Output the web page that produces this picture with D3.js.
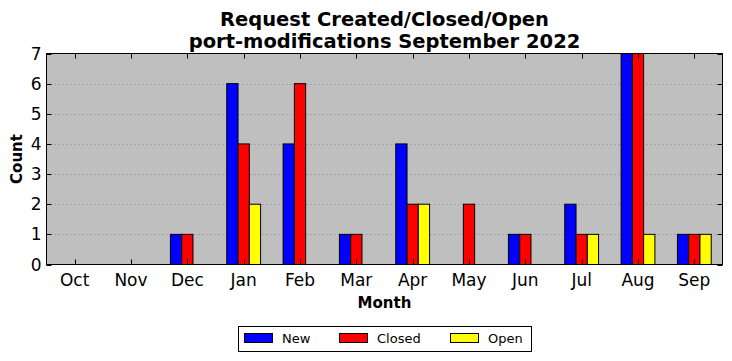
<!DOCTYPE html>
<html><head><meta charset="utf-8">
<script src="https://cdn.jsdelivr.net/npm/d3@7"></script>
<style>body{margin:0;background:#fff}svg text{font-family:"DejaVu Sans",sans-serif}</style>
</head><body><svg id="c" width="732" height="361"></svg>
<script>
const months = ["Oct","Nov","Dec","Jan","Feb","Mar","Apr","May","Jun","Jul","Aug","Sep"];
const seriesNames = ["New","Closed","Open"];
const seriesColors = ["#0000ff","#ff0000","#ffff00"];
const newVals = [0,0,1,6,4,1,4,0,1,2,7,1];
const closedVals = [0,0,1,4,6,1,2,2,1,1,7,1];
const openVals = [0,0,0,2,0,0,2,0,0,1,1,1];
const yTicks = [0,1,2,3,4,5,6,7];
const series = [newVals, closedVals, openVals];

const svg = d3.select("#c");
const L=46.5, R=722.5, T=53.5, B=264.5;
const x = d3.scaleBand().domain(months).range([L,R]).padding(0);
const y = d3.scaleLinear().domain([0,7]).range([B,T]);
const bw = x.bandwidth();

svg.append("rect").attr("x",L).attr("y",T).attr("width",R-L).attr("height",B-T).attr("fill","#bfbfbf");
svg.append("g").selectAll("line").data(yTicks.slice(1,-1)).join("line")
  .attr("x1",L).attr("x2",R).attr("y1",d=>Math.round(y(d))+0.5).attr("y2",d=>Math.round(y(d))+0.5)
  .attr("stroke","#888").attr("stroke-width",1).attr("stroke-dasharray","1,3");

series.forEach((vals,si)=>{
  svg.append("g").selectAll("rect").data(vals).join("rect")
    .attr("x",(d,i)=>x(months[i])+bw*0.5+bw*(-0.3+0.2*si))
    .attr("width",bw*0.2)
    .attr("y",d=>y(d))
    .attr("height",d=>y(0)-y(d))
    .attr("fill",seriesColors[si]).attr("stroke","#000").attr("stroke-width",1);
});

const ax = svg.append("g");
ax.selectAll(".xb").data(months).join("line")
  .attr("x1",d=>Math.round(x(d)+bw/2)+0.5).attr("x2",d=>Math.round(x(d)+bw/2)+0.5)
  .attr("y1",B).attr("y2",B-5).attr("stroke","#000");
ax.selectAll(".xt").data(months).join("line")
  .attr("x1",d=>Math.round(x(d)+bw/2)+0.5).attr("x2",d=>Math.round(x(d)+bw/2)+0.5)
  .attr("y1",T).attr("y2",T+5).attr("stroke","#000");
ax.selectAll(".yl").data(yTicks).join("line")
  .attr("x1",L).attr("x2",L+5).attr("y1",d=>Math.round(y(d))+0.5).attr("y2",d=>Math.round(y(d))+0.5).attr("stroke","#000");
ax.selectAll(".yr").data(yTicks).join("line")
  .attr("x1",R).attr("x2",R-5).attr("y1",d=>Math.round(y(d))+0.5).attr("y2",d=>Math.round(y(d))+0.5).attr("stroke","#000");
svg.append("rect").attr("x",L).attr("y",T).attr("width",R-L).attr("height",B-T).attr("fill","none").attr("stroke","#000");

svg.append("g").selectAll("text").data(months).join("text")
  .attr("x",d=>x(d)+bw/2).attr("y",B+21).attr("text-anchor","middle").attr("font-size",17).text(d=>d);
svg.append("g").selectAll("text").data(yTicks).join("text")
  .attr("x",L-5).attr("y",d=>y(d)+6).attr("text-anchor","end").attr("font-size",17).text(d=>d);

svg.append("text").attr("x",(L+R)/2).attr("y",26).attr("text-anchor","middle").attr("font-size",19.5).attr("font-weight","bold").text("Request Created/Closed/Open");
svg.append("text").attr("x",(L+R)/2).attr("y",48).attr("text-anchor","middle").attr("font-size",19.5).attr("font-weight","bold").text("port-modifications September 2022");
svg.append("text").attr("x",(L+R)/2).attr("y",308).attr("text-anchor","middle").attr("font-size",15).attr("font-weight","bold").text("Month");
svg.append("text").attr("transform","translate(22,"+((T+B)/2)+") rotate(-90)").attr("text-anchor","middle").attr("font-size",15).attr("font-weight","bold").text("Count");

const lg = svg.append("g");
lg.append("rect").attr("x",238.5).attr("y",326.5).attr("width",293).attr("height",25).attr("fill","#fff").attr("stroke","#000");
const lx = [244,339,450];
seriesNames.forEach((n,i)=>{
  lg.append("rect").attr("x",lx[i]+0.5).attr("y",333.5).attr("width",28).attr("height",9).attr("fill",seriesColors[i]).attr("stroke","#000");
  lg.append("text").attr("x",lx[i]+38).attr("y",343).attr("font-size",13).text(n);
});
</script></body></html>
